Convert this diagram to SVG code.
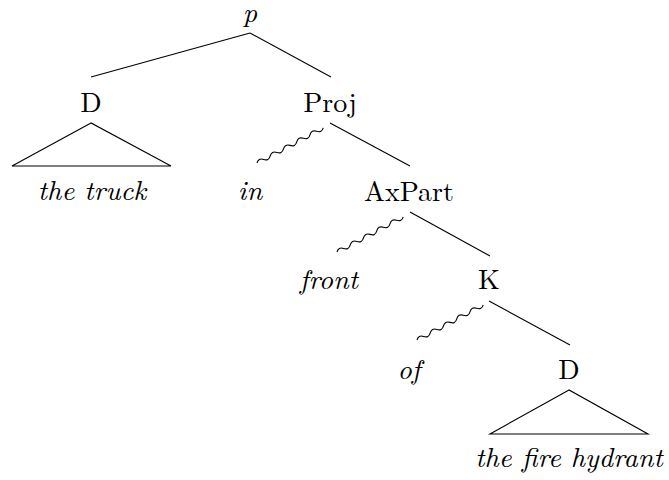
<svg xmlns="http://www.w3.org/2000/svg" xmlns:xlink="http://www.w3.org/1999/xlink" width="669" height="480" viewBox="0 0 669 480">
  <style>
    text { font-family: "Latin Modern Roman", "Liberation Serif", "DejaVu Serif", serif; font-size: 28px; fill: #000; text-anchor: middle; }
    .it { font-style: italic; }
    .edge { stroke: #000; stroke-width: 1.1; fill: none; }
  </style>
  <defs>
    <!-- wavy branch: 5 periods along the x axis, rotated into place -->
    <path id="snake" class="edge" d="M0,0 q3.75,-4 7.5,0 t7.5,0 t7.5,0 t7.5,0 t7.5,0 t7.5,0 t7.5,0 t7.5,0 t7.5,0 t7.5,0"/>
  </defs>

  <g id="connectors">
    <line class="edge" x1="250" y1="33" x2="91" y2="77"/>
    <line class="edge" x1="250" y1="33" x2="331" y2="77"/>
    <path class="edge" d="M91,123 L12,166 L171,166 Z"/>
    <use xlink:href="#snake" transform="translate(257,163) rotate(-28)"/>
    <line class="edge" x1="330" y1="123" x2="410" y2="166"/>
    <use xlink:href="#snake" transform="translate(337,252) rotate(-28)"/>
    <line class="edge" x1="410" y1="212" x2="490" y2="256"/>
    <use xlink:href="#snake" transform="translate(417,340) rotate(-28)"/>
    <line class="edge" x1="489" y1="301" x2="570" y2="345"/>
    <path class="edge" d="M569,390 L490,434 L648,434 Z"/>
  </g>

  <g id="node-p"><text class="it" x="250" y="22">p</text></g>
  <g id="node-D1"><text x="91" y="112">D</text></g>
  <g id="node-the-truck"><text class="it" x="92" y="200">the truck</text></g>
  <g id="node-Proj"><text x="330" y="112">Proj</text></g>
  <g id="node-in"><text class="it" x="250" y="200">in</text></g>
  <g id="node-AxPart"><text x="409" y="201">AxPart</text></g>
  <g id="node-front"><text class="it" x="329" y="289">front</text></g>
  <g id="node-K"><text x="489" y="289">K</text></g>
  <g id="node-of"><text class="it" x="409" y="379">of</text></g>
  <g id="node-D2"><text x="569" y="379">D</text></g>
  <g id="node-the-fire-hydrant"><text class="it" x="569" y="467">the fire hydrant</text></g>
</svg>
